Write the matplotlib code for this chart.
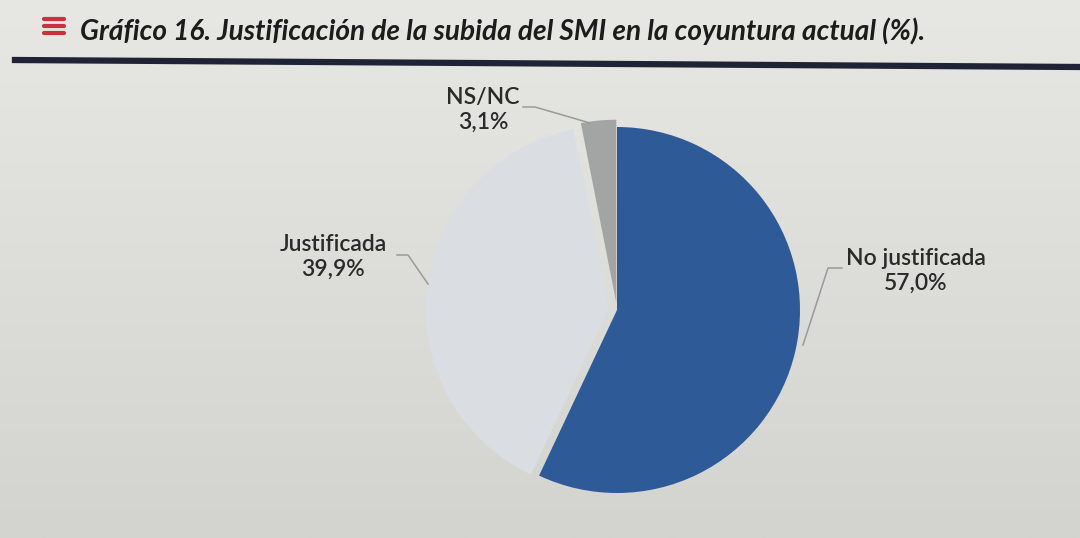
import numpy as np
import matplotlib
matplotlib.use("Agg")
import matplotlib.pyplot as plt
from matplotlib.colors import LinearSegmentedColormap

# ---- data ----
categories = ["No justificada", "Justificada", "NS/NC"]
values = [57.0, 39.9, 3.1]
value_labels = ["57,0%", "39,9%", "3,1%"]
colors = ["#2f5a98", "#dadde2", "#a3a4a4"]
title = "Gráfico 16. Justificación de la subida del SMI en la coyuntura actual (%)."

plt.rcParams['font.family'] = ['Lato', 'DejaVu Sans']

W, H = 1080, 538
fig = plt.figure(figsize=(W / 100, H / 100), dpi=100)

# background gradient (photo paper)
bg = fig.add_axes([0, 0, 1, 1], zorder=0)
grad = np.linspace(0, 1, 256).reshape(-1, 1)
cmap = LinearSegmentedColormap.from_list("bg", ["#e7e7e3", "#d3d4d0"])
bg.imshow(grad, aspect="auto", cmap=cmap, extent=[0, 1, 0, 1], origin="upper")
bg.set_axis_off()

# title & decorations (figure pixel coordinates)
ov = fig.add_axes([0, 0, 1, 1], zorder=2)
ov.set_xlim(0, W)
ov.set_ylim(H, 0)
ov.set_axis_off()
for yy in (19, 26, 33):
    ov.plot([44, 64], [yy, yy], color="#c8323c", lw=3.0, solid_capstyle="round")
ov.text(80, 40, title, fontsize=20.2, fontweight="bold", fontstyle="italic",
        color="#1c1c1c", va="baseline", ha="left")
ov.plot([15, W], [60, 67], color="#1f2335", lw=4.5)

# pie axes: 1 data unit = R px, centred at (cx, cy)
cx, cy, R = 617, 310, 183
pa = fig.add_axes([0, 0, 1, 1], zorder=1)
pa.set_axis_off()
wedges, _ = pa.pie(values, colors=colors, startangle=90, counterclock=False,
                   explode=[0.0, 0.045, 0.04], radius=1.0,
                   wedgeprops=dict(linewidth=0))
pa.set_xlim(-cx / R, (W - cx) / R)
pa.set_ylim(-(H - cy) / R, cy / R)

def px(x, y):
    return ((x - cx) / R, (cy - y) / R)

label_pos = {"No justificada": (916, 271), "Justificada": (333, 257), "NS/NC": (483, 110)}
line_pts = {
    "No justificada": [(842, 268), (828, 268), (803, 345)],
    "Justificada": [(397, 255), (408, 255), (428, 284)],
    "NS/NC": [(523, 107), (535, 107), (590, 123)],
}
for cat, lab in zip(categories, value_labels):
    tx, ty = px(*label_pos[cat])
    pa.text(tx, ty, f"{cat}\n{lab}", ha="center", va="center", fontsize=16.5,
            fontweight="semibold", color="#2a2a2a", linespacing=1.25)
    pts = [px(*p) for p in line_pts[cat]]
    pa.plot([p[0] for p in pts], [p[1] for p in pts], color="#9a9a9a", lw=1.1)

fig.savefig("out.png", dpi=100)
